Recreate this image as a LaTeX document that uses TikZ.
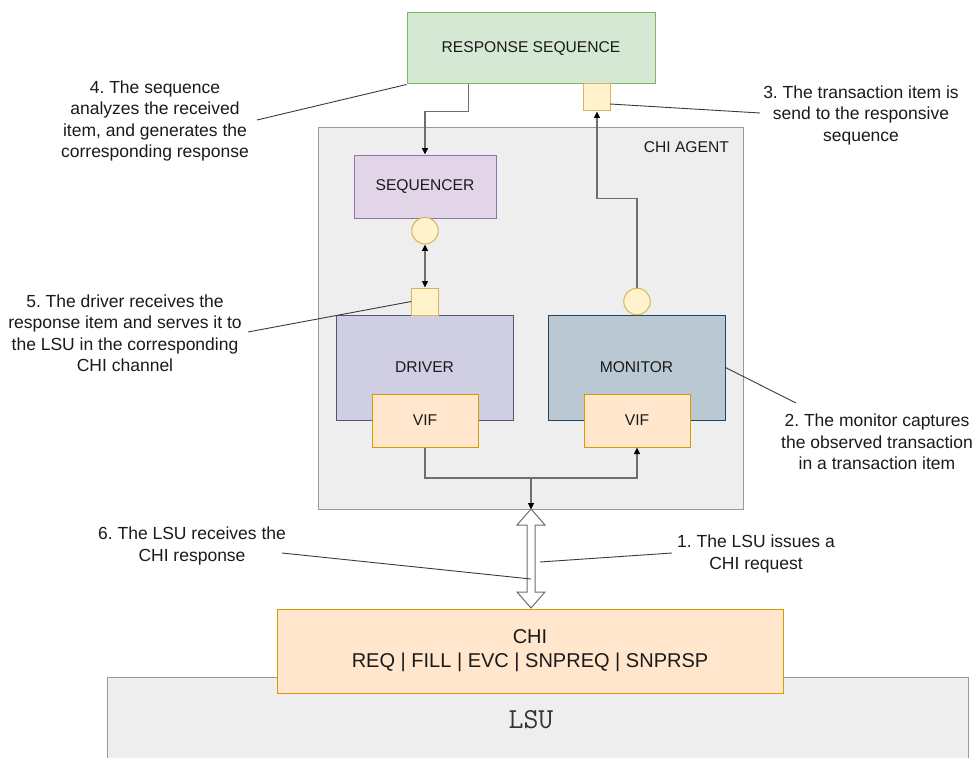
\documentclass[tikz,border=0pt]{standalone}
\usepackage{fontspec}
\setmainfont{Liberation Sans}
\usetikzlibrary{arrows.meta,calc}

\definecolor{txt}{HTML}{1A1A1A}
\definecolor{greenF}{HTML}{D5E8D4}\definecolor{greenS}{HTML}{82B366}
\definecolor{yelF}{HTML}{FFF2CC}\definecolor{yelS}{HTML}{D6B656}
\definecolor{grayF}{HTML}{EEEEEE}\definecolor{grayS}{HTML}{9A9A9A}
\definecolor{seqF}{HTML}{E1D5E7}\definecolor{seqS}{HTML}{9673A6}
\definecolor{drvF}{HTML}{D0CEE2}\definecolor{drvS}{HTML}{56517E}
\definecolor{monF}{HTML}{BAC8D3}\definecolor{monS}{HTML}{23445D}
\definecolor{orF}{HTML}{FFE6CC}\definecolor{orS}{HTML}{D79B00}
\definecolor{wireC}{HTML}{6E6E6E}
\definecolor{leadC}{HTML}{3A3A3A}
\definecolor{lsuT}{HTML}{333333}

\begin{document}
\frenchspacing
\begin{tikzpicture}[x=1pt,y=-1pt,
  box/.style={draw, rectangle, line width=1pt, inner sep=0pt, text=txt,
    font=\fontsize{15.6}{18}\selectfont},
  port/.style={draw=yelS, fill=yelF, rectangle, line width=1pt, inner sep=0pt,
    minimum width=26.5pt, minimum height=27pt},
  portc/.style={draw=yelS, fill=yelF, circle, line width=1pt, inner sep=0pt,
    minimum size=26.5pt},
  note/.style={align=center, text=txt, inner sep=0pt,
    font=\fontsize{17.5}{21.5}\selectfont\frenchspacing},
  wire/.style={draw=wireC, line width=1.3pt},
  tip/.style={-{Triangle[length=6.5pt,width=6pt,color=black]}},
  lead/.style={draw=leadC, line width=0.9pt}]

\useasboundingbox (0,0) rectangle (979,757);
\clip (0,0) rectangle (979,757);

% LSU and CHI interface
\node[box, draw=grayS, fill=grayF, minimum width=861pt, minimum height=100pt] (lsu) at (537.5,727) {};
\node[text=lsuT, font=\ttfamily\fontsize{29}{31}\selectfont] (lsulbl) at (531,720) {LSU};
\node[box, draw=orS, fill=orF, minimum width=506pt, minimum height=84pt, align=center,
  font=\fontsize{20}{24}\selectfont] (chi) at (530,651) {CHI\\REQ | FILL | EVC | SNPREQ | SNPRSP};

% response sequence
\node[box, draw=greenS, fill=greenF, minimum width=248pt, minimum height=71pt] (resp) at (531,48.5) {RESPONSE SEQUENCE};
\node[port] (respport) at (597,97.5) {};

% agent
\node[box, draw=grayS, fill=grayF, minimum width=425pt, minimum height=381pt] (agent) at (530.5,318.5) {};
\node[text=txt, anchor=east, inner sep=0pt, font=\fontsize{15.6}{18}\selectfont] (agentlbl) at (729,147) {CHI AGENT};

\node[box, draw=seqS, fill=seqF, minimum width=142pt, minimum height=63pt] (seq) at (425,186.5) {SEQUENCER};
\node[box, draw=drvS, fill=drvF, minimum width=177pt, minimum height=105pt] (drv) at (424.5,367.5) {DRIVER};
\node[box, draw=monS, fill=monF, minimum width=177pt, minimum height=105pt] (mon) at (636.5,367.5) {MONITOR};
\node[box, draw=orS, fill=orF, minimum width=106pt, minimum height=53pt] (vifL) at (425,420.5) {VIF};
\node[box, draw=orS, fill=orF, minimum width=106pt, minimum height=53pt] (vifR) at (637,420.5) {VIF};

\node[portc] (seqc) at (425,230.7) {};
\node[port] (drvport) at (425,301.5) {};
\node[portc] (monc) at (637,301.5) {};

% connectors
\draw[wire, tip] (resp.south west) ++(62,0) -- ++(0,27) -| (seq.north);
\draw[wire, tip] (monc.north) -- ++(0,-89) -| (respport.south);
\draw[wire, {Triangle[length=6.5pt,width=6pt,color=black]}-{Triangle[length=6.5pt,width=6pt,color=black]}]
  (seqc.south) -- (drvport.north);

\coordinate (j) at (531,478);
\draw[wire] (vifL.south) |- (j);
\draw[wire, tip] (j) -| (vifR.south);
\draw[wire, tip] (j) -- (j |- agent.south);

% bidirectional bus between agent and CHI
\coordinate (bt) at (531,509);
\coordinate (bb) at (531,608);
\draw[fill=white, draw=wireC, line width=1pt, line join=miter]
  (bt) -- ++(-14,16) -- ++(10,0) -- ($(bb)+(-4,-16)$) -- ++(-10,0) -- (bb)
  -- ++(14,-16) -- ++(-10,0) -- ($(bt)+(4,16)$) -- ++(10,0) -- cycle;

% annotations
\node[note] (n4) at (155,121) {4. The sequence\\analyzes the received\\item, and generates the\\corresponding response};
\coordinate (n4e) at (257,120);
\draw[lead] (n4e) -- (resp.south west);

\node[note] (n3) at (861,115) {3. The transaction item is\\send to the responsive\\sequence};
\coordinate (n3s) at (610,104);
\coordinate (n3e) at (760,113);
\draw[lead] (n3s) -- (n3e);

\node[note] (n5) at (125,333) {5. The driver receives the\\response item and serves it to\\the LSU in the corresponding\\CHI channel};
\coordinate (n5e) at (248,332);
\draw[lead] (n5e) -- (drvport.west);

\node[note] (n2) at (877,442) {2. The monitor captures\\the observed transaction\\in a transaction item};
\coordinate (n2e) at (796,403);
\draw[lead] (mon.east) -- (n2e);

\node[note] (n6) at (192,546) {6. The LSU receives the\\CHI response};
\coordinate (n6s) at (282,553);
\coordinate (n6e) at (531,579);
\draw[lead] (n6s) -- (n6e);

\node[note] (n1) at (756,554) {1. The LSU issues a\\CHI request};
\coordinate (n1s) at (540,562);
\coordinate (n1e) at (672,553);
\draw[lead] (n1s) -- (n1e);

\end{tikzpicture}
\end{document}
